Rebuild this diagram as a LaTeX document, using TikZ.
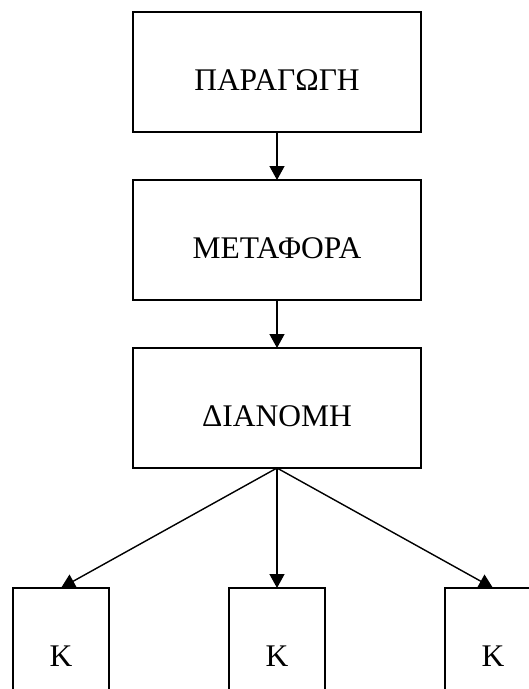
\documentclass[tikz,border=0pt]{standalone}
\usepackage{fontspec}
\setmainfont{Liberation Serif}
\usetikzlibrary{positioning,arrows.meta}

\begin{document}
\begin{tikzpicture}[x=1pt, y=1pt, node distance=48pt,
	stage/.style={draw, line width=1.4pt, minimum width=288pt, minimum height=120pt,
		inner sep=0pt, outer sep=0pt, text height=37pt, text depth=0pt,
		font=\fontsize{31.5}{36}\selectfont},
	kbox/.style={stage, minimum width=96pt},
	arr/.style={-{Triangle[length=14pt, width=15pt]}, line width=1.4pt}]
	\useasboundingbox (0,0) rectangle (529,-689);
	\clip (0,0) rectangle (529,-689);

	\node (paragogi) [stage] at (277,-72) {ΠΑΡΑΓΩΓΗ};
	\node (metafora) [stage, below=of paragogi] {ΜΕΤΑΦΟΡΑ};
	\node (dianomi) [stage, below=of metafora] {ΔΙΑΝΟΜΗ};
	\node (k2) [kbox, below=120pt of dianomi] {Κ};
	\node (k1) [kbox, left=120pt of k2] {Κ};
	\node (k3) [kbox, right=120pt of k2] {Κ};

	\draw[arr] (paragogi) -- (metafora);
	\draw[arr] (metafora) -- (dianomi);
	\draw[arr] (dianomi.south) -- (k1.north);
	\draw[arr] (dianomi.south) -- (k2.north);
	\draw[arr] (dianomi.south) -- (k3.north);
\end{tikzpicture}
\end{document}
